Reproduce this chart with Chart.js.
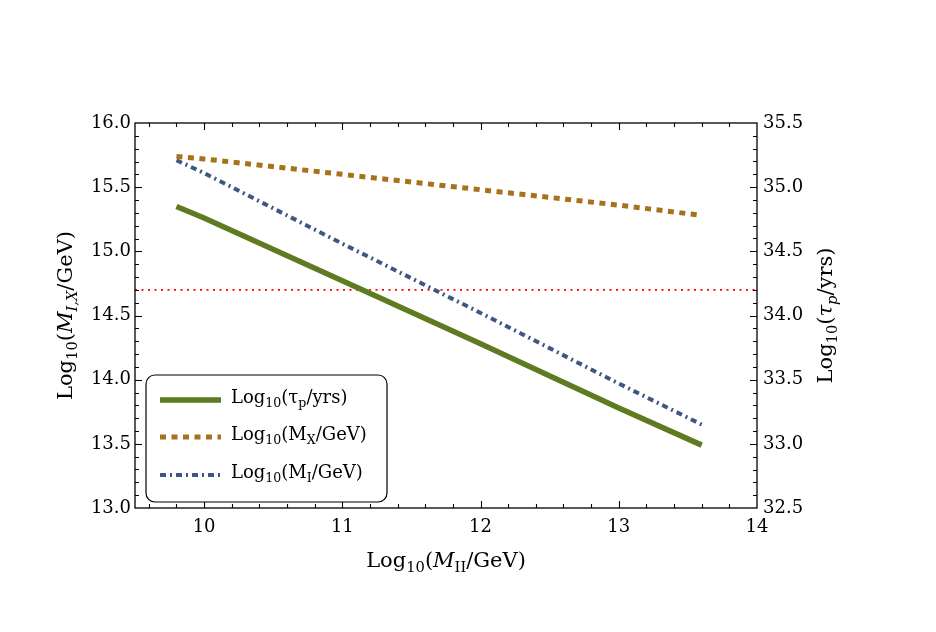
<!DOCTYPE html>
<html><head><meta charset="utf-8">
<script src="https://cdn.jsdelivr.net/npm/chart.js@4"></script>
<style>html,body{margin:0;padding:0;background:#fff}#wrap{width:936px;height:632px}</style>
</head><body><div id="wrap"><canvas id="c" width="936" height="632"></canvas></div>
<script>
// ---- data ----
const massII   = [9.8, 10, 11, 12, 13, 13.6];            // Log10(M_II/GeV)
const logTauP  = [34.85, 34.76, 34.27, 33.78, 33.28, 32.99]; // right axis
const logMX    = [15.74, 15.72, 15.60, 15.48, 15.36, 15.28];
const logMI    = [15.71, 15.61, 15.06, 14.52, 13.97, 13.65];
const boundX   = [9.5, 14];
const boundTau = [34.2, 34.2];
const xRange = [9.5, 14];
const leftRange = [13, 16];
const rightRange = [32.5, 35.5];

const FONT = "'DejaVu Serif', serif";
const C_GREEN = '#5e7b22', C_ORANGE = '#a8711c', C_BLUE = '#3e5782', C_RED = '#ff0000';

function pts(xs, ys){ return xs.map((x,i)=>({x:x, y:ys[i]})); }

function drawRich(ctx, parts, x, y, size, align){
  const w = parts.map(p=>{
    const s = p.sub ? size*0.7 : size;
    ctx.font = (p.it?'italic ':'') + s + 'px ' + FONT;
    return ctx.measureText(p.t).width;
  });
  const total = w.reduce((a,b)=>a+b,0);
  let cx = align==='center' ? x - total/2 : x;
  ctx.textBaseline = 'middle'; ctx.textAlign='left'; ctx.fillStyle='#000';
  parts.forEach((p,i)=>{
    const s = p.sub ? size*0.7 : size;
    ctx.font = (p.it?'italic ':'') + s + 'px ' + FONT;
    ctx.fillText(p.t, cx, p.sub ? y + size*0.3 : y);
    cx += w[i];
  });
}

const frame = {
  id:'frame',
  afterDraw(chart){
    const ctx = chart.ctx, a = chart.chartArea, s = chart.scales;
    ctx.save();
    ctx.strokeStyle='#000'; ctx.lineWidth=1.3;
    ctx.strokeRect(a.left, a.top, a.right-a.left, a.bottom-a.top);
    ctx.lineWidth=1.1;
    ctx.beginPath();
    for(let k=48;k<=70;k++){
      const v=k/5; if(v<=xRange[0]||v>=xRange[1]) continue;
      const major = Math.abs(v-Math.round(v))<1e-9;
      const L = major?7:4;
      const px = Math.round(s.x.getPixelForValue(v))+0.5;
      ctx.moveTo(px,a.bottom); ctx.lineTo(px,a.bottom-L);
      ctx.moveTo(px,a.top); ctx.lineTo(px,a.top+L);
    }
    for(let k=131;k<160;k++){
      const v=k/10; const major = k%5===0; const L = major?7:4;
      const py = Math.round(s.y.getPixelForValue(v))+0.5;
      ctx.moveTo(a.left,py); ctx.lineTo(a.left+L,py);
    }
    for(let k=326;k<355;k++){
      const v=k/10; const major = k%5===0; const L = major?7:4;
      const py = Math.round(s.y2.getPixelForValue(v))+0.5;
      ctx.moveTo(a.right,py); ctx.lineTo(a.right-L,py);
    }
    ctx.stroke();

    // axis titles
    const TS = 21;
    drawRich(ctx, [{t:'Log'},{t:'10',sub:1},{t:'('},{t:'M',it:1},{t:'II',sub:1},{t:'/GeV)'}],
      (a.left+a.right)/2, 562, TS, 'center');
    ctx.save(); ctx.translate(67,(a.top+a.bottom)/2); ctx.rotate(-Math.PI/2);
    drawRich(ctx, [{t:'Log'},{t:'10',sub:1},{t:'('},{t:'M',it:1},{t:'I,X',sub:1,it:1},{t:'/GeV)'}],0,0,TS,'center');
    ctx.restore();
    ctx.save(); ctx.translate(827,(a.top+a.bottom)/2); ctx.rotate(-Math.PI/2);
    drawRich(ctx, [{t:'Log'},{t:'10',sub:1},{t:'('},{t:'τ',it:1},{t:'p',sub:1,it:1},{t:'/yrs)'}],0,0,TS,'center');
    ctx.restore();

    // legend
    const bx=146, by=375, bw=241, bh=127, r=9;
    ctx.beginPath();
    ctx.moveTo(bx+r,by); ctx.arcTo(bx+bw,by,bx+bw,by+bh,r); ctx.arcTo(bx+bw,by+bh,bx,by+bh,r);
    ctx.arcTo(bx,by+bh,bx,by,r); ctx.arcTo(bx,by,bx+bw,by,r); ctx.closePath();
    ctx.fillStyle='#fff'; ctx.fill(); ctx.lineWidth=1.2; ctx.strokeStyle='#000'; ctx.stroke();
    const items = [
      {ds:0, y:400, parts:[{t:'Log'},{t:'10',sub:1},{t:'('},{t:'τ'},{t:'p',sub:1},{t:'/yrs)'}]},
      {ds:1, y:437, parts:[{t:'Log'},{t:'10',sub:1},{t:'(M'},{t:'X',sub:1},{t:'/GeV)'}]},
      {ds:2, y:475, parts:[{t:'Log'},{t:'10',sub:1},{t:'(M'},{t:'I',sub:1},{t:'/GeV)'}]},
    ];
    items.forEach(it=>{
      const d = chart.data.datasets[it.ds];
      ctx.beginPath(); ctx.strokeStyle=d.borderColor; ctx.lineWidth=d.borderWidth;
      ctx.setLineDash(d.borderDash||[]);
      ctx.moveTo(160,it.y); ctx.lineTo(221,it.y); ctx.stroke(); ctx.setLineDash([]);
      drawRich(ctx, it.parts, 231, it.y-2, 18, 'left');
    });
    ctx.restore();
  }
};

const tickFont = {family: FONT, size: 18};
new Chart(document.getElementById('c'), {
  type:'line',
  data:{datasets:[
    {label:'Log10(τp/yrs)', data:pts(massII,logTauP), yAxisID:'y2', borderColor:C_GREEN, borderWidth:5.5, pointRadius:0, order:1},
    {label:'Log10(MX/GeV)', data:pts(massII,logMX), yAxisID:'y', borderColor:C_ORANGE, borderWidth:5, borderDash:[6,5.5], pointRadius:0, order:2},
    {label:'Log10(MI/GeV)', data:pts(massII,logMI), yAxisID:'y', borderColor:C_BLUE, borderWidth:4, borderDash:[6,4,2,4], pointRadius:0, order:3},
    {label:'bound', data:pts(boundX,boundTau), yAxisID:'y2', borderColor:C_RED, borderWidth:1.8, borderDash:[2,4.5], pointRadius:0, order:4},
  ]},
  options:{
    responsive:false, animation:false, devicePixelRatio:1,
    layout:{padding:0},
    plugins:{legend:{display:false}, tooltip:{enabled:false}},
    scales:{
      x:{type:'linear', position:'bottom', min:xRange[0], max:xRange[1],
         grid:{display:false, drawTicks:false}, border:{display:false},
         ticks:{stepSize:1, font:tickFont, color:'#000', padding:9, maxRotation:0,
                callback:v=>Number.isInteger(v)?String(v):''},
         afterFit:s=>{s.height=124;}},
      x2:{type:'linear', position:'top', min:xRange[0], max:xRange[1],
         grid:{display:false, drawTicks:false}, border:{display:false},
         ticks:{display:false}, afterFit:s=>{s.height=123;}},
      y:{type:'linear', position:'left', min:leftRange[0], max:leftRange[1],
         grid:{display:false, drawTicks:false}, border:{display:false},
         ticks:{stepSize:0.5, font:tickFont, color:'#000', padding:4, callback:v=>v.toFixed(1)},
         afterFit:s=>{s.width=135;}},
      y2:{type:'linear', position:'right', min:rightRange[0], max:rightRange[1],
         grid:{display:false, drawTicks:false}, border:{display:false},
         ticks:{stepSize:0.5, font:tickFont, color:'#000', padding:6, callback:v=>v.toFixed(1)},
         afterFit:s=>{s.width=179;}},
    }
  },
  plugins:[frame]
});
</script></body></html>
